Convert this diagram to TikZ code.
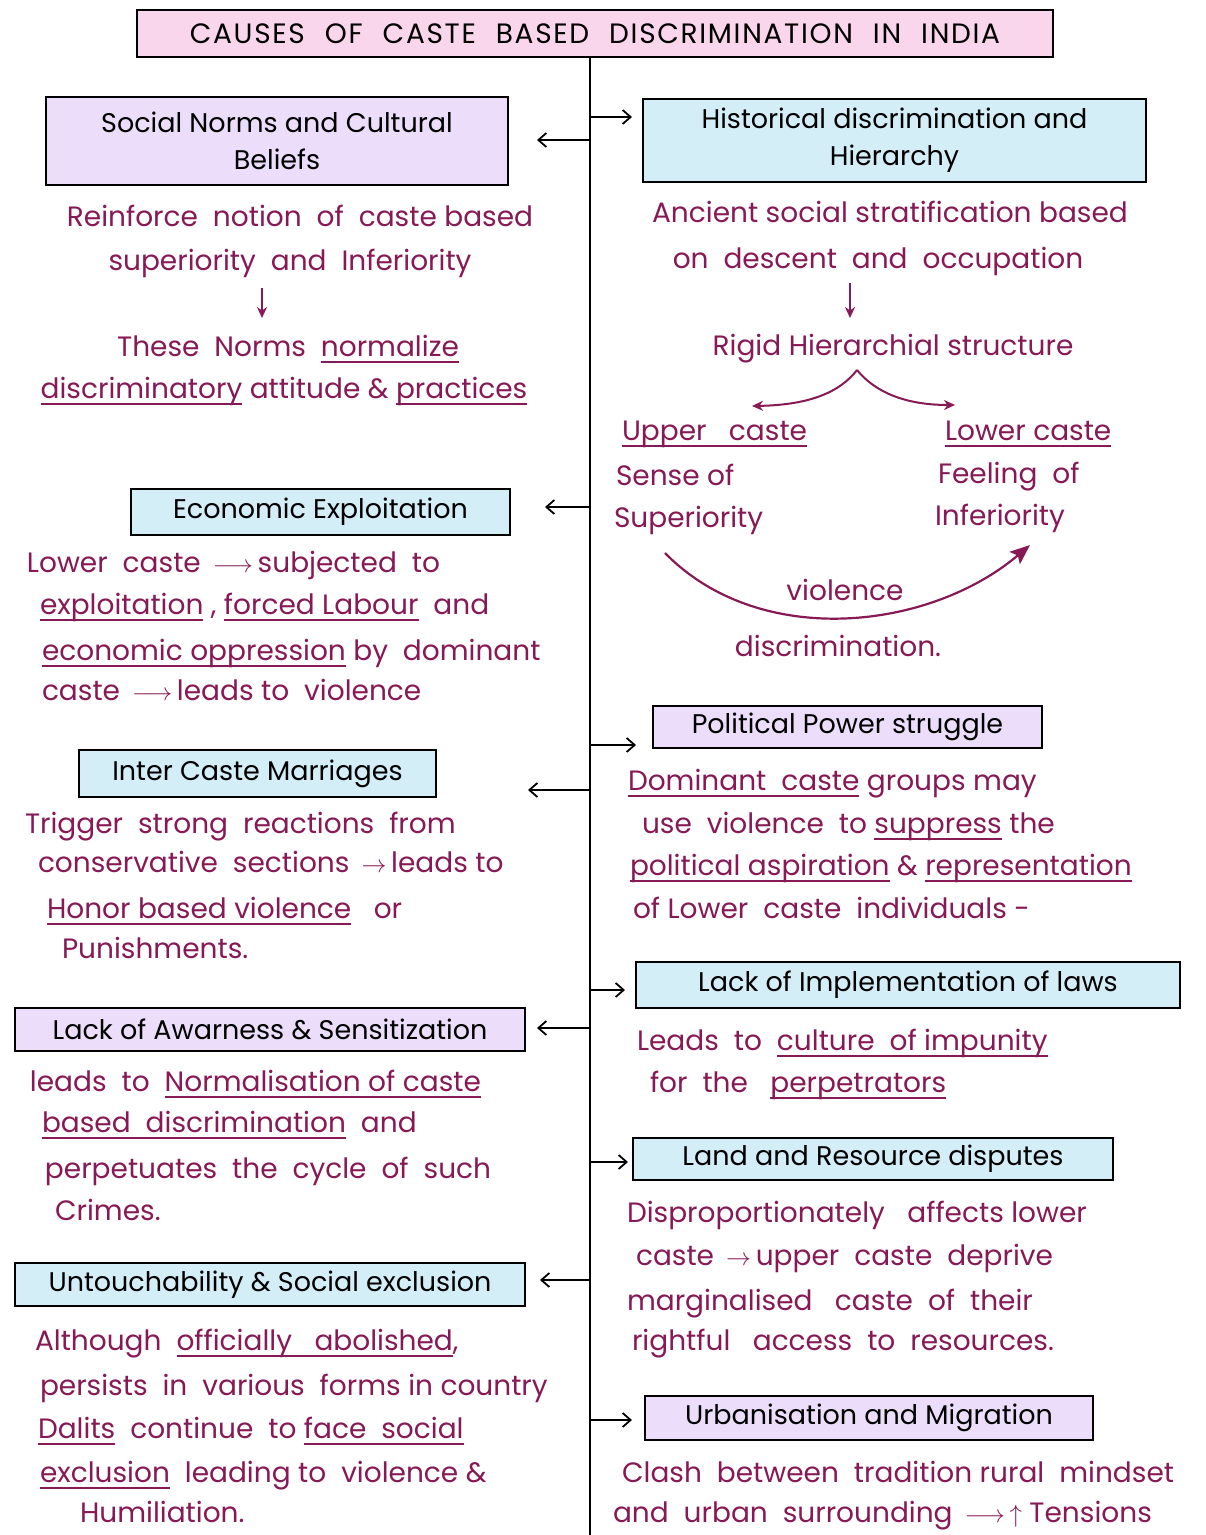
\documentclass[tikz,border=0pt]{standalone}
\usepackage{fontspec}
\setmainfont{Poppins}
\usetikzlibrary{arrows.meta}
\definecolor{ink}{RGB}{135,25,85}
\definecolor{pinkfill}{RGB}{250,214,236}
\definecolor{lavfill}{RGB}{236,222,250}
\definecolor{bluefill}{RGB}{212,238,248}
% underline drawn as a rule below the text box
\newcommand{\ulin}[1]{\leavevmode\setbox0\hbox{#1}\rlap{\rule[-7pt]{\wd0}{1.6pt}}\box0\relax}
\newcommand{\ra}{\,$\rightarrow$\,}
\newcommand{\lra}{\,$\longrightarrow$\,}
\newcommand{\tgap}{\hspace{20pt}}

\begin{document}
\begin{tikzpicture}[x=1pt,y=-1pt,
  every node/.style={inner sep=0pt,outer sep=0pt},
  headbox/.style={draw=black,line width=2.4pt,text=black,align=center,
    font=\fontsize{27}{37}\selectfont},
  body/.style={anchor=base west,text=ink,font=\fontsize{28}{32}\selectfont},
  bodyc/.style={anchor=base,text=ink,font=\fontsize{28}{32}\selectfont},
  tarr/.style={-{Straight Barb[length=8pt,width=14pt,line width=1.8pt]},line width=1.8pt,black},
  marr/.style={-{Stealth[length=11pt,width=10pt]},line width=2pt,ink},
  bigarr/.style={-{Stealth[length=20pt,width=16pt,inset=4pt]},line width=2.2pt,ink}]

% canvas
\fill[white] (0,0) rectangle (1206,1535);
\useasboundingbox (0,0) rectangle (1206,1535);

% title and central trunk
\node[headbox,fill=pinkfill,minimum width=916pt,minimum height=47pt,
  font=\fontsize{28}{32}\selectfont\addfontfeatures{LetterSpace=6}] (title) at (595,33.5)
  {CAUSES\tgap OF\tgap CASTE\tgap BASED\tgap DISCRIMINATION\tgap IN\tgap INDIA};
\coordinate (trunkend) at (590,1535);
\draw[line width=2pt] (title.south -| trunkend) -- (trunkend);

% ---------- headings ----------
\node[headbox,fill=lavfill,minimum width=462pt,minimum height=88pt] (social) at (277,141)
  {Social Norms and Cultural\\Beliefs};
\node[headbox,fill=bluefill,minimum width=503pt,minimum height=83pt] (hist) at (894.5,140.5)
  {Historical discrimination and\\Hierarchy};
\node[headbox,fill=bluefill,minimum width=379pt,minimum height=46pt] (econ) at (320.5,512)
  {Economic Exploitation};
\node[headbox,fill=bluefill,minimum width=357pt,minimum height=47pt] (inter) at (257.5,773.5)
  {Inter Caste Marriages};
\node[headbox,fill=lavfill,minimum width=389pt,minimum height=42pt] (polit) at (847.5,727)
  {Political Power struggle};
\node[headbox,fill=bluefill,minimum width=544pt,minimum height=46pt] (laws) at (908,985)
  {Lack of Implementation of laws};
\node[headbox,fill=lavfill,minimum width=510pt,minimum height=43pt] (aware) at (270,1029.5)
  {Lack of Awarness \& Sensitization};
\node[headbox,fill=bluefill,minimum width=480pt,minimum height=42pt] (land) at (873,1159)
  {Land and Resource disputes};
\node[headbox,fill=bluefill,minimum width=510pt,minimum height=43pt] (untouch) at (270,1284.5)
  {Untouchability \& Social exclusion};
\node[headbox,fill=lavfill,minimum width=448pt,minimum height=44pt] (urban) at (869,1418)
  {Urbanisation and Migration};

% ---------- branches off the trunk ----------
\coordinate (jsocial) at (590,140);
\coordinate (jhist) at (590,117);
\coordinate (jecon) at (590,507);
\coordinate (jinter) at (590,790);
\coordinate (jpolit) at (590,745);
\coordinate (jlaws) at (590,990);
\coordinate (jaware) at (590,1028);
\coordinate (jland) at (590,1162);
\coordinate (juntouch) at (590,1280);
\coordinate (jurban) at (590,1420);

\draw[tarr,shorten >=29pt] (jsocial) -- (social.east |- jsocial);
\draw[tarr,shorten >=35pt] (jecon) -- (econ.east |- jecon);
\draw[tarr,shorten >=92pt] (jinter) -- (inter.east |- jinter);
\draw[tarr,shorten >=12pt] (jaware) -- (aware.east |- jaware);
\draw[tarr,shorten >=15pt] (juntouch) -- (untouch.east |- juntouch);
\draw[tarr,shorten >=11pt] (jhist) -- (hist.west |- jhist);
\draw[tarr,shorten >=17pt] (jpolit) -- (polit.west |- jpolit);
\draw[tarr,shorten >=11pt] (jlaws) -- (laws.west |- jlaws);
\draw[tarr,shorten >=5pt] (jland) -- (land.west |- jland);
\draw[tarr,shorten >=13pt] (jurban) -- (urban.west |- jurban);

% ---------- Social norms ----------
\node[bodyc] (sn1) at (300,226) {Reinforce\ \ notion\ \ of\ \ caste based};
\node[bodyc] (sn2) at (290,270) {superiority\ \ and\ \ Inferiority};
\node[bodyc] (sn3) at (288,356) {These\ \ Norms\ \ \ulin{normalize}};
\node[bodyc] (sn4) at (284,398) {\ulin{discriminatory} attitude \& \ulin{practices}};
\coordinate (sna) at (262,288);
\coordinate (snb) at (262,318);
\draw[marr] (sna) -- (snb);

% ---------- Historical ----------
\node[bodyc] (hi1) at (890,222) {Ancient social stratification based};
\node[bodyc] (hi2) at (878,268) {on\ \ descent\ \ and\ \ occupation};
\node[bodyc] (hi3) at (893,355) {Rigid Hierarchial structure};
\coordinate (hia) at (850,283);
\coordinate (hib) at (850,318);
\draw[marr] (hia) -- (hib);
\coordinate (apex) at (857,370);
\coordinate (uptip) at (752,406);
\coordinate (lowtip) at (955,405);
\draw[marr] (apex) .. controls (840,392) and (810,405) .. (uptip);
\draw[marr] (apex) .. controls (875,392) and (905,405) .. (lowtip);
\node[body] (up1) at (622,440) {\ulin{Upper\ \ \ caste}};
\node[body] (up2) at (616,485) {Sense of};
\node[body] (up3) at (614,527) {Superiority};
\node[body] (lo1) at (945,440) {\ulin{Lower caste}};
\node[body] (lo2) at (938,483) {Feeling\ \ of};
\node[body] (lo3) at (935,525) {Inferiority};
\coordinate (vstart) at (665,553);
\coordinate (vend) at (1030,545);
\draw[bigarr] (vstart) .. controls (760,650) and (930,630) .. (vend);
\node[bodyc] (viol) at (845,600) {violence};
\node[bodyc] (disc) at (838,656) {discrimination.};

% ---------- Economic ----------
\node[body] (ec1) at (27,572) {Lower\ \ caste \lra subjected\ \ to};
\node[body] (ec2) at (40,614) {\ulin{exploitation}\ , \ulin{forced Labour}\ \ and};
\node[body] (ec3) at (42,660) {\ulin{economic oppression} by\ \ dominant};
\node[body] (ec4) at (42,700) {caste \lra leads to\ \ violence};

% ---------- Political ----------
\node[body] (po1) at (628,790) {\ulin{Dominant\ \ caste} groups may};
\node[body] (po2) at (642,833) {use\ \ violence\ \ to \ulin{suppress} the};
\node[body] (po3) at (630,875) {\ulin{political aspiration} \& \ulin{representation}};
\node[body] (po4) at (633,918) {of Lower\ \ caste\ \ individuals -};

% ---------- Inter caste marriages ----------
\node[body] (ic1) at (25,833) {Trigger\ \ strong\ \ reactions\ \ from};
\node[body] (ic2) at (38,872) {conservative\ \ sections \ra leads to};
\node[body] (ic3) at (47,918) {\ulin{Honor based violence}\ \ \ or};
\node[body] (ic4) at (62,958) {Punishments.};

% ---------- Lack of implementation ----------
\node[body] (la1) at (637,1050) {Leads\ \ to\ \ \ulin{culture\ \ of\ impunity}};
\node[body] (la2) at (650,1092) {for\ \ the\ \ \ \ulin{perpetrators}};

% ---------- Lack of awareness ----------
\node[body] (aw1) at (30,1091) {leads\ \ to\ \ \ulin{Normalisation of caste}};
\node[body] (aw2) at (42,1132) {\ulin{based\ \ discrimination}\ \ and};
\node[body] (aw3) at (45,1178) {perpetuates\ \ the\ \ cycle\ \ of\ \ such};
\node[body] (aw4) at (55,1220) {Crimes.};

% ---------- Land and resources ----------
\node[body] (ld1) at (627,1222) {Disproportionately\ \ \ affects lower};
\node[body] (ld2) at (636,1265) {caste \ra upper\ \ caste\ \ deprive};
\node[body] (ld3) at (627,1310) {marginalised\ \ \ caste\ \ of\ \ their};
\node[body] (ld4) at (632,1350) {rightful\ \ \ access\ \ to\ \ resources.};

% ---------- Untouchability ----------
\node[body] (un1) at (35,1350) {Although\ \ \ulin{officially\ \ \ abolished},};
\node[body] (un2) at (40,1395) {persists\ \ in\ \ various\ \ forms in country};
\node[body] (un3) at (38,1438) {\ulin{Dalits}\ \ continue\ \ to \ulin{face\ \ social}};
\node[body] (un4) at (40,1482) {\ulin{exclusion}\ \ leading to\ \ violence \&};
\node[body] (un5) at (80,1522) {Humiliation.};

% ---------- Urbanisation ----------
\node[body] (ur1) at (622,1482) {Clash\ \ between\ \ tradition rural\ \ mindset};
\node[body] (ur2) at (613,1522) {and\ \ urban\ \ surrounding \lra$\uparrow$ Tensions};

\end{tikzpicture}
\end{document}
